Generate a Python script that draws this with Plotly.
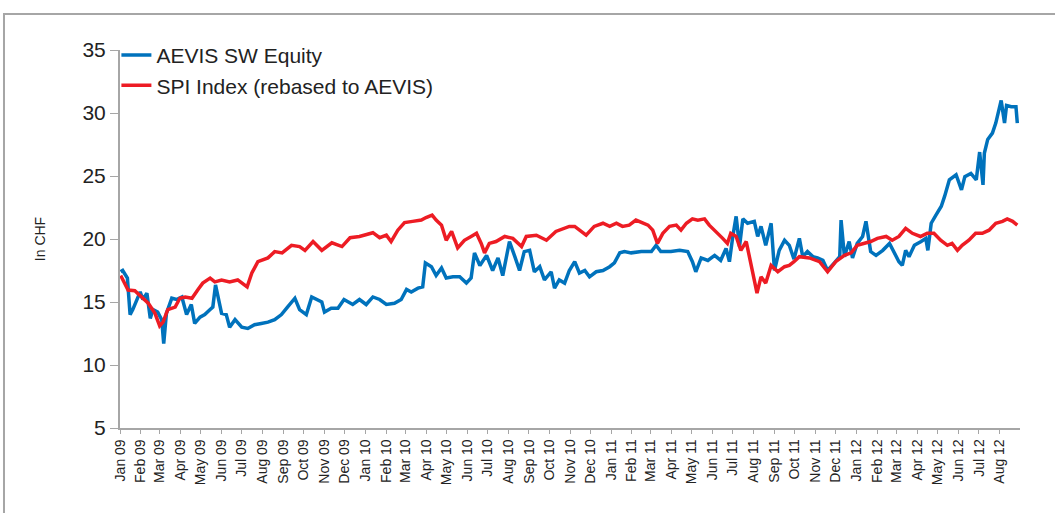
import plotly.graph_objects as go

# ---- data ----
aevis_dates = [
    "2009-01-02", "2009-01-05", "2009-01-12", "2009-01-16", "2009-01-20", "2009-01-26", "2009-01-31",
    "2009-02-04", "2009-02-10", "2009-02-15", "2009-02-19", "2009-02-26", "2009-03-04", "2009-03-07",
    "2009-03-11", "2009-03-19", "2009-03-26", "2009-04-03", "2009-04-10", "2009-04-17", "2009-04-22",
    "2009-04-30", "2009-05-07", "2009-05-15", "2009-05-19", "2009-05-23", "2009-05-27", "2009-06-01",
    "2009-06-08", "2009-06-13", "2009-06-21", "2009-07-01", "2009-07-10", "2009-07-20", "2009-07-30",
    "2009-08-09", "2009-08-19", "2009-08-29", "2009-09-07", "2009-09-18", "2009-09-25", "2009-10-05",
    "2009-10-13", "2009-10-20", "2009-10-28", "2009-11-01", "2009-11-11", "2009-11-21", "2009-11-30",
    "2009-12-13", "2009-12-23", "2010-01-02", "2010-01-12", "2010-01-22", "2010-02-01", "2010-02-13",
    "2010-02-23", "2010-03-03", "2010-03-10", "2010-03-20", "2010-03-27", "2010-03-31", "2010-04-09",
    "2010-04-16", "2010-04-24", "2010-05-01", "2010-05-11", "2010-05-21", "2010-05-31", "2010-06-07",
    "2010-06-12", "2010-06-20", "2010-06-30", "2010-07-09", "2010-07-17", "2010-07-24", "2010-08-03",
    "2010-08-11", "2010-08-18", "2010-08-25", "2010-09-02", "2010-09-09", "2010-09-17", "2010-09-24",
    "2010-10-04", "2010-10-09", "2010-10-16", "2010-10-24", "2010-10-31", "2010-11-08", "2010-11-15",
    "2010-11-23", "2010-11-30", "2010-12-10", "2010-12-20", "2010-12-30", "2011-01-06", "2011-01-14",
    "2011-01-21", "2011-01-31", "2011-02-15", "2011-03-02", "2011-03-09", "2011-03-16", "2011-03-31",
    "2011-04-13", "2011-04-25", "2011-05-02", "2011-05-07", "2011-05-15", "2011-05-25", "2011-06-04",
    "2011-06-13", "2011-06-21", "2011-06-26", "2011-07-01", "2011-07-06", "2011-07-11", "2011-07-16",
    "2011-07-23", "2011-08-02", "2011-08-07", "2011-08-12", "2011-08-19", "2011-08-27", "2011-09-01",
    "2011-09-08", "2011-09-16", "2011-09-23", "2011-09-30", "2011-10-08", "2011-10-13", "2011-10-20",
    "2011-10-28", "2011-11-04", "2011-11-12", "2011-11-19", "2011-11-29", "2011-12-07", "2011-12-09",
    "2011-12-14", "2011-12-21", "2011-12-26", "2012-01-02", "2012-01-10", "2012-01-15", "2012-01-22",
    "2012-01-30", "2012-02-09", "2012-02-19", "2012-02-26", "2012-03-04", "2012-03-09", "2012-03-14",
    "2012-03-19", "2012-03-27", "2012-04-06", "2012-04-13", "2012-04-16", "2012-04-21", "2012-04-28",
    "2012-05-06", "2012-05-11", "2012-05-18", "2012-05-28", "2012-06-05", "2012-06-10", "2012-06-19",
    "2012-06-27", "2012-07-02", "2012-07-07", "2012-07-09", "2012-07-14", "2012-07-21", "2012-07-26",
    "2012-07-31", "2012-08-03", "2012-08-08", "2012-08-11", "2012-08-18", "2012-08-25", "2012-08-27",
]
aevis_values = [
    17.4, 17.5, 16.9, 14.0, 14.4, 15.2, 15.8,
    15.2, 15.7, 13.7, 14.4, 14.2, 13.6, 11.7,
    14.1, 15.3, 15.2, 15.4, 14.0, 14.8, 13.3,
    13.8, 14.0, 14.4, 14.6, 16.35, 15.2, 14.1,
    14.0, 13.0, 13.6, 13.0, 12.9, 13.2, 13.3,
    13.4, 13.6, 14.0, 14.6, 15.3, 14.4, 14.0,
    15.4, 15.2, 15.0, 14.2, 14.5, 14.5, 15.2,
    14.8, 15.2, 14.8, 15.4, 15.2, 14.8, 14.9,
    15.2, 16.0, 15.8, 16.1, 16.2, 18.1, 17.8,
    17.1, 17.7, 16.9, 17.0, 17.0, 16.5, 16.9,
    18.9, 17.9, 18.7, 17.5, 18.5, 17.1, 19.8,
    18.6, 17.5, 19.0, 19.1, 17.4, 17.8, 16.75,
    17.4, 16.1, 16.75, 16.5, 17.5, 18.2, 17.3,
    17.5, 17.0, 17.4, 17.5, 17.8, 18.1, 18.9,
    19.0, 18.9, 19.0, 19.0, 19.5, 19.0, 19.0,
    19.1, 19.0, 18.2, 17.4, 18.5, 18.3, 18.7,
    18.3, 19.25, 18.2, 20.2, 21.8, 19.4, 21.6,
    21.25, 21.4, 20.2, 21.0, 19.5, 21.25, 17.5,
    19.1, 19.9, 19.5, 18.4, 20.05, 18.6, 19.0,
    18.6, 18.5, 18.3, 17.5, 18.1, 18.6, 21.5,
    18.6, 19.8, 18.5, 19.65, 20.2, 21.4, 19.0,
    18.7, 19.1, 19.65, 18.9, 18.2, 17.9, 19.1,
    18.6, 19.5, 19.8, 20.05, 19.1, 21.25, 21.9,
    22.6, 23.4, 24.7, 25.1, 23.9, 24.95, 25.2,
    24.7, 26.9, 24.3, 26.8, 27.9, 28.4, 29.2,
    30.2, 31.0, 29.2, 30.6, 30.5, 30.5, 29.2,
]

spi_dates = [
    "2009-01-02", "2009-01-13", "2009-01-23", "2009-02-02", "2009-02-12", "2009-02-22", "2009-03-01",
    "2009-03-06", "2009-03-13", "2009-03-24", "2009-03-31", "2009-04-08", "2009-04-18", "2009-04-27",
    "2009-05-04", "2009-05-15", "2009-05-22", "2009-06-01", "2009-06-13", "2009-06-25", "2009-07-09",
    "2009-07-16", "2009-07-25", "2009-08-09", "2009-08-19", "2009-08-30", "2009-09-13", "2009-09-25",
    "2009-10-03", "2009-10-15", "2009-10-28", "2009-11-12", "2009-11-27", "2009-12-09", "2009-12-23",
    "2010-01-12", "2010-01-22", "2010-02-01", "2010-02-08", "2010-02-18", "2010-02-28", "2010-03-12",
    "2010-03-25", "2010-04-01", "2010-04-10", "2010-04-16", "2010-04-24", "2010-05-01", "2010-05-09",
    "2010-05-18", "2010-05-28", "2010-06-07", "2010-06-15", "2010-06-22", "2010-06-27", "2010-07-04",
    "2010-07-14", "2010-07-27", "2010-08-08", "2010-08-21", "2010-08-28", "2010-09-12", "2010-09-27",
    "2010-10-11", "2010-10-31", "2010-11-08", "2010-11-18", "2010-11-25", "2010-12-07", "2010-12-20",
    "2010-12-30", "2011-01-09", "2011-01-18", "2011-01-28", "2011-02-07", "2011-02-17", "2011-02-25",
    "2011-03-04", "2011-03-11", "2011-03-19", "2011-03-29", "2011-04-08", "2011-04-15", "2011-04-23",
    "2011-05-02", "2011-05-10", "2011-05-20", "2011-05-27", "2011-06-04", "2011-06-11", "2011-06-16",
    "2011-06-23", "2011-06-28", "2011-07-06", "2011-07-13", "2011-07-21", "2011-07-28", "2011-08-02",
    "2011-08-06", "2011-08-12", "2011-08-19", "2011-08-27", "2011-09-06", "2011-09-16", "2011-09-23",
    "2011-09-30", "2011-10-08", "2011-10-23", "2011-11-07", "2011-11-19", "2011-12-01", "2011-12-14",
    "2011-12-24", "2012-01-02", "2012-01-12", "2012-01-22", "2012-02-01", "2012-02-14", "2012-02-23",
    "2012-03-04", "2012-03-14", "2012-03-24", "2012-04-05", "2012-04-15", "2012-04-25", "2012-05-05",
    "2012-05-15", "2012-05-22", "2012-05-30", "2012-06-06", "2012-06-16", "2012-06-26", "2012-07-06",
    "2012-07-16", "2012-07-26", "2012-08-05", "2012-08-12", "2012-08-20", "2012-08-27",
]
spi_values = [
    17.1, 15.95, 15.9, 15.4, 14.9, 14.1, 13.1,
    13.4, 14.4, 14.6, 15.3, 15.4, 15.3, 16.0,
    16.5, 16.9, 16.6, 16.75, 16.6, 16.75, 16.2,
    17.3, 18.2, 18.5, 19.0, 18.9, 19.5, 19.4,
    19.1, 19.8, 19.1, 19.7, 19.4, 20.1, 20.2,
    20.5, 20.1, 20.3, 19.8, 20.7, 21.3, 21.4,
    21.5, 21.7, 21.9, 21.5, 21.1, 19.9, 20.6,
    19.3, 19.9, 20.2, 20.45, 19.65, 18.9, 19.65,
    19.8, 20.2, 20.05, 19.4, 20.2, 20.3, 19.9,
    20.6, 21.0, 21.0, 20.6, 20.3, 21.0, 21.25,
    21.0, 21.25, 21.0, 21.1, 21.5, 21.25, 21.1,
    20.7, 19.65, 20.45, 21.0, 21.1, 20.7, 21.25,
    21.6, 21.5, 21.6, 21.1, 20.7, 20.3, 20.05,
    19.65, 20.45, 20.2, 19.1, 19.8, 18.1, 16.75,
    15.7, 17.0, 16.5, 17.9, 17.4, 17.8, 17.9,
    18.2, 18.6, 18.5, 18.2, 17.4, 18.2, 18.7,
    18.9, 19.5, 19.65, 19.8, 20.05, 20.2, 19.9,
    20.2, 20.85, 20.45, 20.2, 20.45, 20.45, 19.9,
    19.5, 19.65, 19.1, 19.5, 19.9, 20.45, 20.45,
    20.7, 21.25, 21.4, 21.6, 21.4, 21.1,
]

series_names = ["AEVIS SW Equity", "SPI Index (rebased to AEVIS)"]
series_colors = ["#0072BC", "#ED1C24"]

FONT = "Liberation Sans, Arial, Helvetica, sans-serif"

fig = go.Figure()
fig.add_trace(go.Scatter(x=aevis_dates, y=aevis_values, mode="lines", name=series_names[0],
                         line=dict(color=series_colors[0], width=3.5)))
fig.add_trace(go.Scatter(x=spi_dates, y=spi_values, mode="lines", name=series_names[1],
                         line=dict(color=series_colors[1], width=3.5)))

fig.update_layout(
    width=1055, height=513,
    margin=dict(l=120, r=35, t=50, b=85),
    paper_bgcolor="white", plot_bgcolor="white",
    font=dict(family=FONT, color="#222222"),
    showlegend=True,
    legend=dict(x=-0.004, y=1.04, xanchor="left", yanchor="top",
                font=dict(size=21, color="#222222"), bgcolor="rgba(0,0,0,0)",
                itemwidth=30, tracegroupgap=0),
    xaxis=dict(type="date", range=["2009-01-01", "2012-08-31"],
               tick0="2009-01-01", dtick="M1", tickformat="%b %y", tickangle=-90,
               tickfont=dict(size=14, color="#222222"),
               showgrid=False, zeroline=False, showline=True, linecolor="#A6A6A6", linewidth=1.5,
               ticks="outside", ticklen=4, tickcolor="#A6A6A6"),
    yaxis=dict(range=[5, 35], dtick=5, tick0=5,
               tickfont=dict(size=21, color="#222222"),
               showgrid=False, zeroline=False, showline=True, linecolor="#A6A6A6", linewidth=2,
               ticks="outside", ticklen=8, tickcolor="#A6A6A6",
               title=dict(text="In CHF", font=dict(size=14, color="#222222"), standoff=34)),
    shapes=[dict(type="rect", xref="paper", yref="paper",
                 x0=-0.1289, x1=1.06, y0=-0.25, y1=1.0952,
                 line=dict(color="#A6A6A6", width=2), fillcolor="rgba(0,0,0,0)", layer="below")],
)

fig.write_html("out.html", config={"displayModeBar": False},
               post_script="document.body.style.margin='0';document.body.style.overflow='hidden';")
